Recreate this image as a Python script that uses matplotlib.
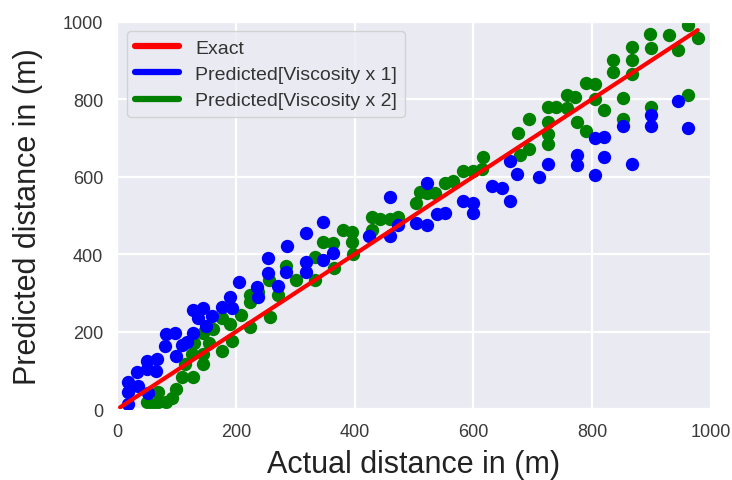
import numpy as np
import matplotlib
matplotlib.use("Agg")
import matplotlib.pyplot as plt
import seaborn as sns
from matplotlib.lines import Line2D

# ───────────────────────── Data ─────────────────────────
blue_actual = [18, 18, 52, 18, 33, 50, 51, 67, 80, 110, 117, 100, 83, 98, 127, 137,
               127, 145, 176, 193, 190, 237, 206, 235, 271, 254, 285, 318, 254, 318,
               287, 318, 346, 363, 346, 425, 459, 473, 504, 522, 538, 552, 459, 522,
               582, 599, 599, 662, 631, 648, 661, 673, 710, 725, 774, 774, 805, 805,
               820, 820, 867, 852, 899, 899, 945, 961, 35, 66, 150, 160]
blue_pred = [13, 44, 41, 70, 97, 103, 124, 129, 163, 167, 173, 137, 193, 197, 197, 235,
             257, 260, 265, 262, 290, 290, 329, 316, 318, 352, 355, 355, 390, 380,
             421, 454, 483, 403, 385, 447, 447, 475, 480, 475, 505, 507, 547, 583,
             536, 533, 507, 538, 577, 572, 641, 608, 600, 632, 630, 657, 605, 701,
             703, 650, 632, 731, 760, 731, 794, 726, 60, 100, 215, 240]

green_actual = [50, 69, 83, 69, 100, 110, 127, 114, 144, 126, 144, 130, 144, 176, 193,
                161, 176, 223, 209, 257, 223, 223, 237, 255, 271, 285, 302, 333, 347,
                333, 366, 363, 380, 395, 395, 397, 429, 429, 442, 459, 473, 504, 510,
                522, 535, 552, 565, 582, 599, 614, 616, 675, 678, 693, 693, 725, 725,
                725, 725, 740, 757, 757, 772, 774, 789, 789, 805, 805, 820, 835, 835,
                852, 852, 867, 867, 867, 899, 899, 897, 929, 945, 961, 978, 961,
                60, 92, 155, 190]
green_pred = [18, 18, 18, 44, 52, 83, 83, 116, 116, 142, 142, 172, 197, 150, 175,
              206, 236, 211, 244, 239, 277, 295, 303, 334, 295, 369, 334, 393, 431,
              334, 364, 428, 462, 457, 431, 400, 462, 495, 492, 492, 495, 531, 560,
              557, 557, 583, 590, 615, 615, 620, 650, 713, 657, 672, 748, 684, 710,
              742, 779, 779, 776, 810, 805, 742, 717, 841, 838, 800, 772, 870, 902,
              802, 749, 866, 900, 934, 779, 932, 967, 965, 928, 992, 958, 810,
              10, 30, 170, 220]

exact_x = [5, 978]

# ───────────────────────── Plot ─────────────────────────
sns.set_style("darkgrid")
plt.rcParams["font.family"] = ["Liberation Sans", "DejaVu Sans"]

fig = plt.figure(figsize=(7.32, 4.81), dpi=100)
ax = fig.add_axes([0.160, 0.147, 0.811, 0.806])

ax.scatter(green_actual, green_pred, s=92, color="green", linewidths=0, zorder=2)
ax.scatter(blue_actual, blue_pred, s=92, color="blue", linewidths=0, zorder=3)
ax.plot(exact_x, exact_x, color="red", linewidth=3, zorder=4)

ax.set_xlim(0, 1000)
ax.set_ylim(0, 1000)
ax.set_xticks([0, 200, 400, 600, 800, 1000])
ax.set_yticks([0, 200, 400, 600, 800, 1000])
ax.tick_params(axis="both", labelsize=13, pad=10, length=0, labelcolor="#3a3a3a")
ax.grid(color="white", linewidth=1.6)

ax.set_xlabel("Actual distance in (m)", fontsize=22, color="#222222", labelpad=6)
ax.set_ylabel("Predicted distance in (m)", fontsize=22, color="#222222", labelpad=14)

handles = [Line2D([], [], color="red", lw=4.5, solid_capstyle="round"),
           Line2D([], [], color="blue", lw=4.5, solid_capstyle="round"),
           Line2D([], [], color="green", lw=4.5, solid_capstyle="round")]
labels = ["Exact", "Predicted[Viscosity x 1]", "Predicted[Viscosity x 2]"]
leg = ax.legend(handles, labels, loc="upper left", fontsize=14, handlelength=2.3,
                labelspacing=0.45, borderaxespad=0.5, frameon=True, fancybox=True)
leg.get_frame().set_facecolor("#EAEAF2")
leg.get_frame().set_edgecolor("#CCCCCC")
for t in leg.get_texts():
    t.set_color("#333333")

fig.savefig("out.png", dpi=100)
